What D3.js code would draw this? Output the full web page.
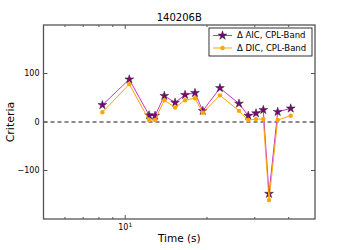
<!DOCTYPE html>
<html>
<head>
<meta charset="utf-8">
<script src="https://cdn.jsdelivr.net/npm/d3@7"></script>
<style>
  body { margin: 0; background: #fff; }
  text { font-family: "DejaVu Sans", sans-serif; fill: #000; }
</style>
</head>
<body>
<div id="chart"></div>
<script>
// time in seconds
const times = [8.24, 10.35, 12.24, 12.88, 13.93, 15.26, 16.61, 18.07, 19.30, 22.33,
               26.24, 28.39, 30.32, 32.25, 33.85, 36.44, 40.69];
const deltaAIC = [35, 88, 14, 13, 54, 40, 56, 60, 23, 70, 38, 13, 18, 25, -148, 21, 28];
const deltaDIC = [20, 78, 4, 4, 45, 30, 45, 49, 19, 55, 23, 4, 6, 6, -161, 4, 13];
const yTicks = [-100, 0, 100];
const xMinorTicks = [6, 7, 8, 9, 20, 30, 40];
const xMajorTicks = [10];
const seriesNames = ["\u0394 AIC, CPL-Band", "\u0394 DIC, CPL-Band"];

const margin = { top: 25, right: 35, bottom: 31, left: 43.5 };
const width = 350 - margin.left - margin.right;
const height = 250 - margin.top - margin.bottom;

const svg = d3.select("#chart")
    .append("svg")
    .attr("width", 350)
    .attr("height", 250)
    .append("g")
    .attr("transform", `translate(${margin.left},${margin.top})`);

const x = d3.scaleLog().domain([5, 50]).range([0, width]);
const y = d3.scaleLinear().domain([-200, 200]).range([height, 0]);

const axisColor = "#555";
const fmt = d => d < 0 ? "\u2212" + Math.abs(d) : String(d);

// ticks (inward, all four sides)
const tickG = svg.append("g").attr("stroke", axisColor).attr("stroke-width", 1);
yTicks.forEach(v => {
    tickG.append("line").attr("x1", 0).attr("x2", 4).attr("y1", y(v)).attr("y2", y(v));
    tickG.append("line").attr("x1", width).attr("x2", width - 4).attr("y1", y(v)).attr("y2", y(v));
});
xMajorTicks.forEach(v => {
    tickG.append("line").attr("x1", x(v)).attr("x2", x(v)).attr("y1", height).attr("y2", height - 4);
    tickG.append("line").attr("x1", x(v)).attr("x2", x(v)).attr("y1", 0).attr("y2", 4);
});
xMinorTicks.forEach(v => {
    tickG.append("line").attr("x1", x(v)).attr("x2", x(v)).attr("y1", height).attr("y2", height - 2);
    tickG.append("line").attr("x1", x(v)).attr("x2", x(v)).attr("y1", 0).attr("y2", 2);
});

// tick labels
svg.selectAll("text.ytick")
    .data(yTicks)
    .enter()
    .append("text")
    .attr("class", "ytick")
    .attr("x", -4)
    .attr("y", d => y(d))
    .attr("dy", "0.35em")
    .attr("text-anchor", "end")
    .style("font-size", "8px")
    .text(fmt);

xMajorTicks.forEach(v => {
    const t = svg.append("text")
        .attr("x", x(v))
        .attr("y", height + 11)
        .attr("text-anchor", "middle")
        .style("font-size", "8px");
    t.append("tspan").text("10");
    t.append("tspan").attr("dy", -3).style("font-size", "6px").text("1");
});

// zero line
svg.append("line")
    .attr("x1", 0).attr("x2", width)
    .attr("y1", y(0)).attr("y2", y(0))
    .attr("stroke", "#666")
    .attr("stroke-width", 1.5)
    .attr("stroke-dasharray", "4,3");

const data = times.map((t, i) => ({ t: t, aic: deltaAIC[i], dic: deltaDIC[i] }));

const lineAIC = d3.line().x(d => x(d.t)).y(d => y(d.aic));
const lineDIC = d3.line().x(d => x(d.t)).y(d => y(d.dic));

const star = d3.symbol().type(d3.symbolStar).size(24);

svg.append("path")
    .datum(data)
    .attr("fill", "none")
    .attr("stroke", "#cc33cc")
    .attr("stroke-width", 1)
    .attr("d", lineAIC);

svg.selectAll("path.star")
    .data(data)
    .enter()
    .append("path")
    .attr("class", "star")
    .attr("d", star)
    .attr("transform", d => `translate(${x(d.t)},${y(d.aic)})`)
    .attr("fill", "#800080")
    .attr("stroke", "#222")
    .attr("stroke-width", 0.5);

svg.append("path")
    .datum(data)
    .attr("fill", "none")
    .attr("stroke", "#ffa500")
    .attr("stroke-width", 1)
    .attr("d", lineDIC);

svg.selectAll("circle.dic")
    .data(data)
    .enter()
    .append("circle")
    .attr("class", "dic")
    .attr("cx", d => x(d.t))
    .attr("cy", d => y(d.dic))
    .attr("r", 2.2)
    .attr("fill", "#ffa500");

// frame
svg.append("rect")
    .attr("width", width)
    .attr("height", height)
    .attr("fill", "none")
    .attr("stroke", axisColor)
    .attr("stroke-width", 1.3);

// title and labels
svg.append("text")
    .attr("x", width / 2)
    .attr("y", -4)
    .attr("text-anchor", "middle")
    .style("font-size", "10px")
    .text("140206B");

svg.append("text")
    .attr("x", width / 2)
    .attr("y", height + 23)
    .attr("text-anchor", "middle")
    .style("font-size", "10.5px")
    .text("Time (s)");

svg.append("text")
    .attr("transform", "rotate(-90)")
    .attr("x", -height / 2)
    .attr("y", -margin.left + 14)
    .attr("text-anchor", "middle")
    .style("font-size", "11px")
    .text("Criteria");

// legend
const legend = svg.append("g").attr("transform", `translate(${209 - margin.left},${28 - margin.top})`);
legend.append("rect")
    .attr("width", 103)
    .attr("height", 28)
    .attr("fill", "#fff")
    .attr("stroke", "#000")
    .attr("stroke-width", 0.8);

const legendColors = ["#cc33cc", "#ffa500"];
seriesNames.forEach((name, i) => {
    const ly = 7.5 + i * 12.5;
    legend.append("line")
        .attr("x1", 4).attr("x2", 23)
        .attr("y1", ly).attr("y2", ly)
        .attr("stroke", legendColors[i])
        .attr("stroke-width", 1);
    if (i === 0) {
        legend.append("path")
            .attr("d", star)
            .attr("transform", `translate(13.5,${ly})`)
            .attr("fill", "#800080")
            .attr("stroke", "#222")
            .attr("stroke-width", 0.5);
    } else {
        legend.append("circle")
            .attr("cx", 13.5).attr("cy", ly).attr("r", 2.2)
            .attr("fill", "#ffa500");
    }
    legend.append("text")
        .attr("x", 28)
        .attr("y", ly)
        .attr("dy", "0.35em")
        .style("font-size", "8.5px")
        .text(name);
});
</script>
</body>
</html>
